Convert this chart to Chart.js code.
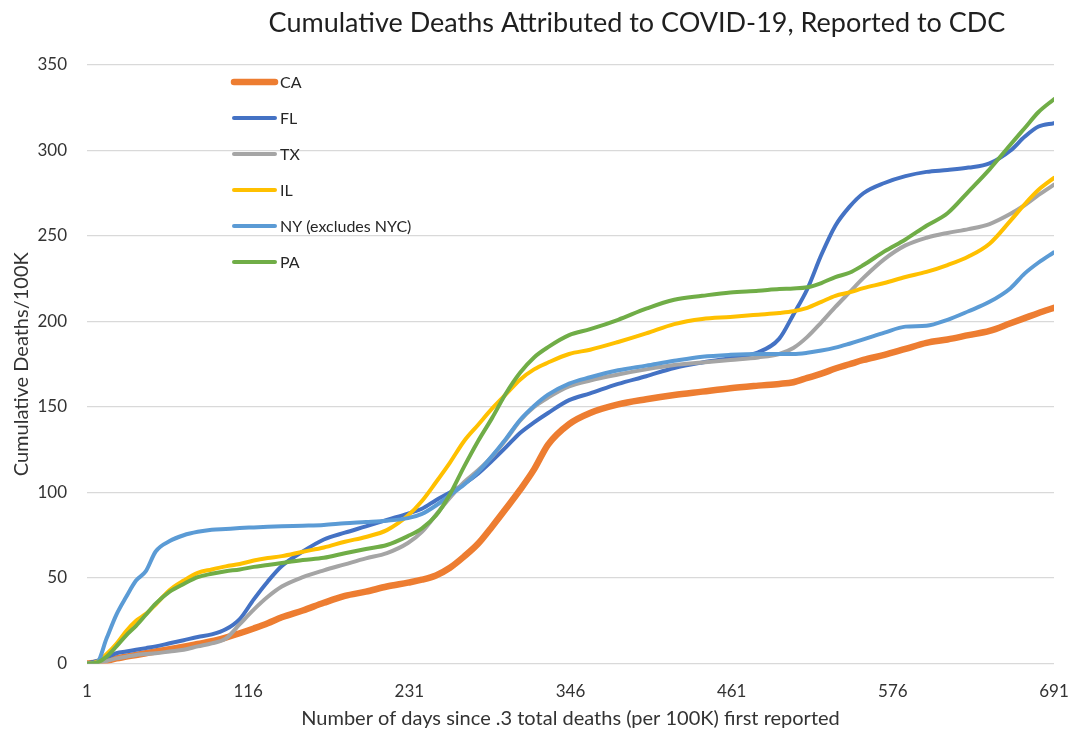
<!DOCTYPE html>
<html>
<head>
<meta charset="utf-8">
<script src="https://cdn.jsdelivr.net/npm/chart.js@4.4.0/dist/chart.umd.min.js"></script>
<style>
  html, body { margin: 0; padding: 0; background: #fff; }
  #wrap { width: 1076px; height: 734px; position: relative; }
</style>
</head>
<body>
<div id="wrap"><canvas id="myChart"></canvas></div>
<script>
// days since .3 deaths/100K first reported
var days = [1, 8, 15, 22, 29, 36, 43, 50, 60, 70, 80, 90, 100, 110, 120, 130, 140, 155, 170, 185, 200, 215, 230,
	240, 250, 260, 270, 280, 290, 300, 310, 320, 330, 345, 360, 380, 400, 420, 440, 460, 480,
	495, 505, 515, 525, 535, 545, 555, 570, 585, 600, 615, 630, 645, 660, 670, 680, 691];

var caVals = [0, 0.5, 1.5, 3, 4, 5, 6, 7, 8.3, 9.8, 11.4, 13, 15.2, 17.7, 20.5, 23.5, 27, 31, 35.5, 39.5, 42, 45, 47.3,
	49, 51.5, 56, 62.5, 70, 80, 90.6, 101.5, 113.5, 128, 140, 146.5, 151.5, 154.5, 157, 159, 161, 162.5,
	163.5, 164.5, 167, 169.5, 172.5, 175, 177.5, 180.5, 184, 187.5, 189.5, 192, 194.5, 199, 202, 205, 208];
var flVals = [0, 1.5, 3.5, 6, 7, 8, 9, 10, 11.8, 13.6, 15.5, 17, 20, 26, 37.5, 48, 57, 65.5, 72.5, 76.5, 80.2, 84, 87.7,
	90.5, 95.5, 100, 105, 111, 118.5, 126.5, 134.8, 141, 146.5, 154, 158, 163.5, 168, 172.8, 176, 178.5, 182,
	190, 204, 219, 239, 256, 267, 275, 281, 285, 287.5, 288.6, 290, 292.5, 300, 308, 314, 316];
var txVals = [0, 0.5, 1.5, 3, 4, 5, 5.5, 6, 7, 8, 10, 11.8, 14.5, 23, 31.5, 39, 45, 50.5, 54.5, 58, 61.5, 64.6, 70.5,
	77, 87, 97, 106, 113, 121, 131, 142, 150, 155.5, 162, 165.5, 169, 172, 174.5, 176, 177.5, 179,
	181, 184.5, 191, 199.5, 208.5, 217, 225.5, 236.5, 244.5, 249, 251.8, 254, 257, 263, 268, 274, 280];
var ilVals = [0, 1, 5.5, 11.5, 19, 25, 29, 34.5, 43, 48.5, 53, 55, 56.8, 58.2, 60.2, 61.7, 62.8, 65.4, 67.8, 71.2, 74, 78, 86.5,
	95, 106, 117.5, 130, 139.5, 149, 157.5, 166, 172, 176, 181, 183.5, 188, 193, 198.5, 201.5, 202.7, 204,
	205, 206, 208, 211.5, 215, 217, 219.5, 222.5, 226, 229, 233, 238, 245.5, 259, 268.5, 277, 284];
var nyVals = [0, 0.5, 14.7, 28.6, 39, 48.5, 54, 65.5, 71.6, 75, 77, 78.2, 78.7, 79.2, 79.6, 80, 80.3, 80.6, 81, 82, 82.7, 83.5, 85,
	87.5, 92.4, 98.5, 104.6, 112, 121.3, 131.5, 142.4, 150.6, 157.2, 163.7, 167.4, 171.5, 174.2, 177, 179.4, 180.5, 181,
	181, 181, 181.7, 183, 184.7, 187, 189.5, 193.5, 197, 197.5, 201, 206, 211.5, 219.5, 228, 234.5, 240.5];
var paVals = [0, 0.5, 4, 10, 16.5, 22, 28.5, 35, 42, 46.5, 50.5, 52.5, 54, 55, 56.5, 57.6, 58.8, 60.5, 61.8, 64.5, 67, 69.3, 74.5,
	79, 86.5, 99, 115, 130, 143.5, 158, 170, 179, 185, 192, 195.5, 201, 207.5, 212.7, 215, 217, 218,
	219, 219.3, 220, 222.5, 226, 228.5, 233, 241, 248, 256, 263.3, 276, 289, 303.5, 313, 322.5, 330];

var seriesNames = ['CA', 'FL', 'TX', 'IL', 'NY (excludes NYC)', 'PA'];
var xTicks = [1, 116, 231, 346, 461, 576, 691];
var yTicks = [0, 50, 100, 150, 200, 250, 300, 350];

var titleText = 'Cumulative Deaths Attributed to COVID-19, Reported to CDC';
var xTitle = 'Number of days since .3 total deaths (per 100K) first reported';
var yTitle = 'Cumulative Deaths/100K';

var fontFam = 'Lato, "Open Sans", sans-serif';
var colors = ['#ED7D31', '#4472C4', '#A5A5A5', '#FFC000', '#5B9BD5', '#70AD47'];
var widths = [6.5, 4, 4, 4, 4, 4];
var allVals = [caVals, flVals, txVals, ilVals, nyVals, paVals];

var datasets = allVals.map(function(vals, i) {
	return {
		label: seriesNames[i],
		data: vals.map(function(v, j) { return {x: days[j], y: v}; }),
		borderColor: colors[i],
		backgroundColor: colors[i],
		borderWidth: widths[i],
		pointRadius: 0,
		cubicInterpolationMode: 'monotone',
		borderCapStyle: 'round',
		borderJoinStyle: 'round',
		order: allVals.length - i
	};
});

// legend + title drawn by hand, legend sits inside the plot area
var legendBox = {
	id: 'legendBox',
	afterDraw: function(chart) {
		var ctx = chart.ctx;
		ctx.save();
		ctx.font = '16px ' + fontFam;
		ctx.textBaseline = 'middle';
		ctx.textAlign = 'left';
		datasets.forEach(function(ds, i) {
			var y = 82 + i * 36;
			ctx.strokeStyle = ds.borderColor;
			ctx.lineWidth = ds.borderWidth;
			ctx.lineCap = 'round';
			ctx.beginPath();
			ctx.moveTo(234, y);
			ctx.lineTo(275, y);
			ctx.stroke();
			ctx.fillStyle = '#262626';
			ctx.fillText(ds.label, 280, y + 1);
		});
		ctx.font = '27px ' + fontFam;
		ctx.textAlign = 'center';
		ctx.fillStyle = '#1f1f1f';
		ctx.fillText(titleText, 637, 23);
		ctx.restore();
	}
};

var ctx = document.getElementById('myChart').getContext('2d');

var myChart = new Chart(ctx, {
	type: 'line',
	data: { datasets: datasets },
	plugins: [legendBox],
	options: {
		responsive: true,
		maintainAspectRatio: false,
		animation: false,
		layout: { padding: { top: 65, right: 22, left: 0, bottom: 0 } },
		plugins: {
			legend: { display: false },
			tooltip: { enabled: false }
		},
		scales: {
			x: {
				type: 'linear',
				min: 1,
				max: 691,
				afterBuildTicks: function(s) { s.ticks = xTicks.map(function(v) { return {value: v}; }); },
				afterFit: function(s) { s.height = 70.5; s.paddingLeft = 0; s.paddingRight = 0; },
				grid: { display: false, drawTicks: false },
				border: { display: false },
				ticks: { padding: 18, maxRotation: 0, color: '#333', font: { family: fontFam, size: 17 } },
				title: { display: true, text: xTitle, color: '#333', padding: { top: 0, bottom: 3 }, font: { family: fontFam, size: 20 } }
			},
			y: {
				min: 0,
				max: 350,
				afterBuildTicks: function(s) { s.ticks = yTicks.map(function(v) { return {value: v}; }); },
				afterFit: function(s) { s.width = 87; },
				grid: { color: '#d9d9d9', lineWidth: 1.2, drawTicks: false },
				border: { display: false },
				ticks: { padding: 20, color: '#333', font: { family: fontFam, size: 17 } },
				title: { display: true, text: yTitle, color: '#333', padding: { top: 10, bottom: 0 }, font: { family: fontFam, size: 20 } }
			}
		}
	}
});
</script>
</body>
</html>
